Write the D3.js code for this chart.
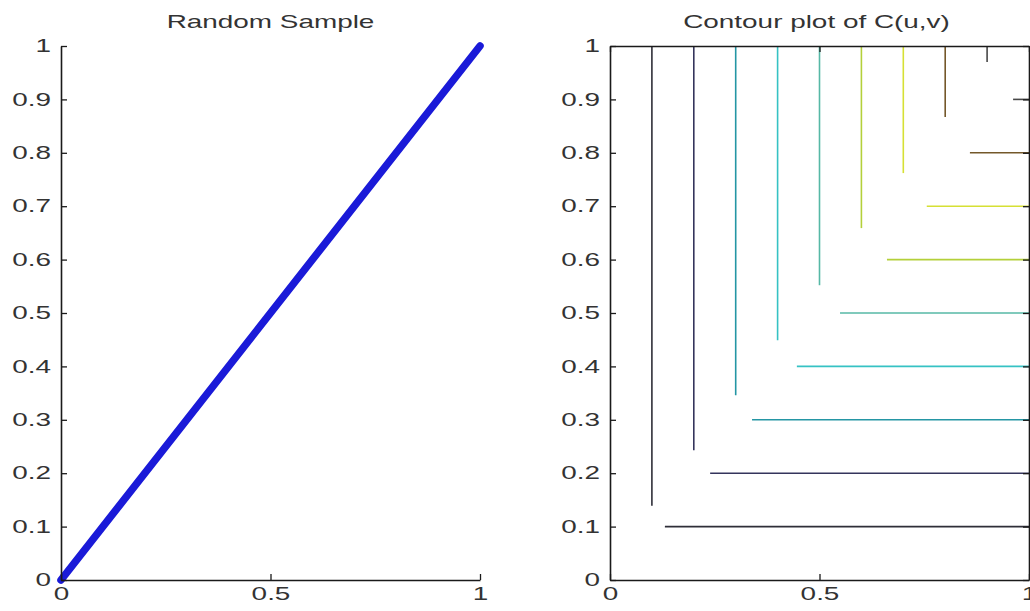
<!DOCTYPE html>
<html>
<head>
<meta charset="utf-8">
<script src="https://cdn.jsdelivr.net/npm/d3@7"></script>
<style>
  html, body { margin: 0; padding: 0; background: #fff; }
  svg { display: block; font-family: "Liberation Sans", Arial, sans-serif; }
</style>
</head>
<body>
<svg id="chart" width="1030" height="611"></svg>
<script>
// ---- data ----
const sampleU = [0, 1];
const sampleV = [0, 1];
const tickValsX = [0, 0.5, 1];
const tickLabelsX = ["0", "0.5", "1"];
const tickValsY = [0, 0.1, 0.2, 0.3, 0.4, 0.5, 0.6, 0.7, 0.8, 0.9, 1];
const tickLabelsY = ["0", "0.1", "0.2", "0.3", "0.4", "0.5", "0.6", "0.7", "0.8", "0.9", "1"];
const contourLevels = [0.1, 0.2, 0.3, 0.4, 0.5, 0.6, 0.7, 0.8, 0.9];
const verticalLowEnd = [0.139, 0.243, 0.346, 0.449, 0.552, 0.659, 0.762, 0.867, 0.97];
const horizontalStart = [0.131, 0.239, 0.339, 0.446, 0.549, 0.661, 0.756, 0.859, 0.962];
const levelColors = ["#2e2e38", "#34345c", "#2496a4", "#36c2c4", "#56b8a6", "#b4d03a", "#d6e034", "#74582a", "#484848"];
const titles = ["Random Sample", "Contour plot of C(u,v)"];

// ---- layout ----
const svg = d3.select("#chart");
const yScale = d3.scaleLinear().domain([0, 1]).range([580, 46]);
const xLeft = d3.scaleLinear().domain([0, 1]).range([61, 480]);
const xRight = d3.scaleLinear().domain([0, 1]).range([610, 1029]);
const SX = 1.55, FS = 18, TXT = "#333333";

function styleYLabels(g, pad) {
  g.selectAll(".tick text")
    .attr("x", 0)
    .attr("transform", `translate(${-pad},0) scale(${SX},1)`)
    .attr("font-size", FS).attr("fill", TXT)
    .attr("font-family", "Liberation Sans, Arial, sans-serif");
}
function styleXLabels(g) {
  g.selectAll(".tick text")
    .attr("y", 0)
    .attr("transform", `translate(0,7) scale(${SX},1)`)
    .attr("font-size", FS).attr("fill", TXT)
    .attr("font-family", "Liberation Sans, Arial, sans-serif");
}
function styleLines(g) {
  g.selectAll("path.domain").attr("stroke", "#1a1a1a").attr("stroke-width", 1.6);
  g.selectAll(".tick line").attr("stroke", "#1a1a1a").attr("stroke-width", 1.3);
}

// ---- Left panel: Random Sample ----
const left = svg.append("g");
const pts = sampleU.map((u, i) => [u, sampleV[i]]);
left.append("path")
  .datum(pts)
  .attr("d", d3.line().x(d => xLeft(d[0])).y(d => yScale(d[1])))
  .attr("fill", "none")
  .attr("stroke", "#1a1ad8")
  .attr("stroke-width", 7.5)
  .attr("stroke-linecap", "round");

const lY = left.append("g").attr("transform", `translate(${xLeft(0)},0)`)
  .call(d3.axisLeft(yScale).tickValues(tickValsY).tickFormat((d, i) => tickLabelsY[i]).tickSize(-6).tickSizeOuter(0));
styleYLabels(lY, 10); styleLines(lY);
const lX = left.append("g").attr("transform", `translate(0,${yScale(0)})`)
  .call(d3.axisBottom(xLeft).tickValues(tickValsX).tickFormat((d, i) => tickLabelsX[i]).tickSize(-6).tickSizeOuter(0));
styleXLabels(lX); styleLines(lX);

left.append("text")
  .attr("transform", `translate(${(xLeft(0) + xLeft(1)) / 2},28) scale(${SX},1)`)
  .attr("text-anchor", "middle").attr("font-size", FS).attr("fill", TXT)
  .text(titles[0]);

// ---- Right panel: Contour plot ----
const right = svg.append("g");
contourLevels.forEach((k, i) => {
  right.append("line")
    .attr("x1", xRight(k)).attr("x2", xRight(k))
    .attr("y1", yScale(verticalLowEnd[i])).attr("y2", yScale(1))
    .attr("stroke", levelColors[i]).attr("stroke-width", 1.6);
  right.append("line")
    .attr("x1", xRight(horizontalStart[i])).attr("x2", xRight(1))
    .attr("y1", yScale(k)).attr("y2", yScale(k))
    .attr("stroke", levelColors[i]).attr("stroke-width", 1.6);
});

const rY = right.append("g").attr("transform", `translate(${xRight(0)},0)`)
  .call(d3.axisLeft(yScale).tickValues(tickValsY).tickFormat((d, i) => tickLabelsY[i]).tickSize(-6).tickSizeOuter(0));
styleYLabels(rY, 10); styleLines(rY);
const rY2 = right.append("g").attr("transform", `translate(${xRight(1)},0)`)
  .call(d3.axisRight(yScale).tickValues(tickValsY).tickFormat("").tickSize(-6).tickSizeOuter(0));
styleLines(rY2);
const rX = right.append("g").attr("transform", `translate(0,${yScale(0)})`)
  .call(d3.axisBottom(xRight).tickValues(tickValsX).tickFormat((d, i) => tickLabelsX[i]).tickSize(-6).tickSizeOuter(0));
styleXLabels(rX); styleLines(rX);
const rX2 = right.append("g").attr("transform", `translate(0,${yScale(1)})`)
  .call(d3.axisTop(xRight).tickValues(tickValsX).tickFormat("").tickSize(-6).tickSizeOuter(0));
styleLines(rX2);

right.append("text")
  .attr("transform", `translate(${(xRight(0) + xRight(1)) / 2 - 3},28) scale(${SX},1)`)
  .attr("text-anchor", "middle").attr("font-size", FS).attr("fill", TXT)
  .text(titles[1]);
</script>
</body>
</html>
